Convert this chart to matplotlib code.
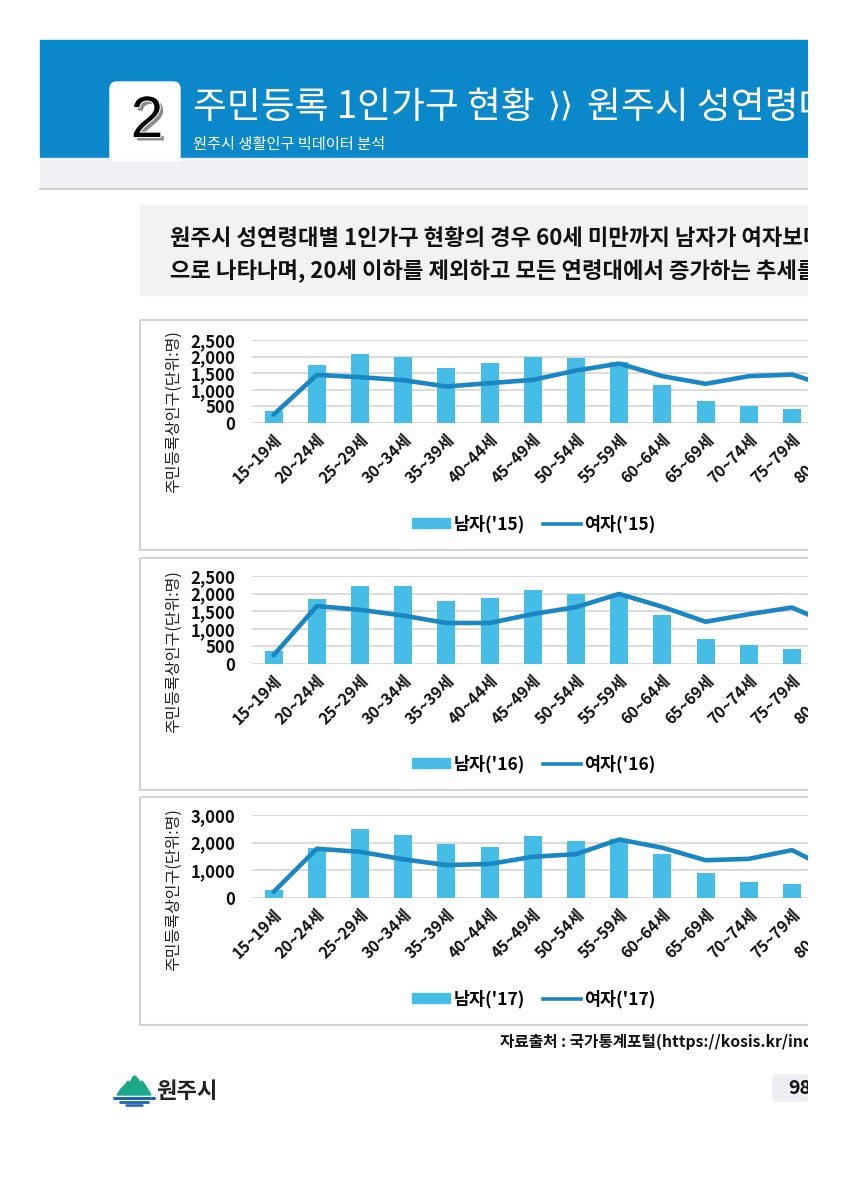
import matplotlib
matplotlib.use('Agg')
import matplotlib.pyplot as plt
from matplotlib.patches import Rectangle, FancyBboxPatch, Polygon
from matplotlib.lines import Line2D
import matplotlib.patheffects as pe
import numpy as np

plt.rcParams['font.family'] = ['Noto Sans CJK KR', 'DejaVu Sans']

# ---------------- data ----------------
categories = ['15~19세', '20~24세', '25~29세', '30~34세', '35~39세', '40~44세', '45~49세',
              '50~54세', '55~59세', '60~64세', '65~69세', '70~74세', '75~79세', '80~84세']

male_15 = [350, 1750, 2080, 2000, 1660, 1820, 2000, 1960, 1850, 1140, 660, 520, 430, 350]
female_15 = [250, 1450, 1380, 1290, 1100, 1200, 1300, 1580, 1790, 1410, 1180, 1410, 1460, 1050]

male_16 = [370, 1840, 2230, 2210, 1800, 1865, 2115, 1980, 1980, 1385, 710, 540, 440, 360]
female_16 = [250, 1645, 1540, 1375, 1165, 1165, 1420, 1615, 1990, 1625, 1200, 1415, 1605, 1070]

male_17 = [290, 1825, 2490, 2285, 1945, 1850, 2235, 2055, 2150, 1585, 895, 570, 495, 380]
female_17 = [220, 1780, 1670, 1400, 1190, 1230, 1490, 1585, 2115, 1815, 1365, 1415, 1730, 950]

years = ["'15", "'16", "'17"]
male_series = [male_15, male_16, male_17]
female_series = [female_15, female_16, female_17]
y_max = [2500, 2500, 3000]
y_step = [500, 500, 1000]

# ---------------- layout ----------------
W, H = 847, 1200
BAR_C = '#45bde6'
LINE_C = '#1a86c3'

fig = plt.figure(figsize=(W / 100, H / 100), dpi=100)
fig.patch.set_facecolor('white')

bg = fig.add_axes([0, 0, 1, 1], zorder=-5)
bg.set_xlim(0, W)
bg.set_ylim(H, 0)
bg.axis('off')


def rect(x0, y0, x1, y1):
    return [x0 / W, 1 - y1 / H, (x1 - x0) / W, (y1 - y0) / H]


# header
bg.add_patch(Rectangle((40, 40), 768, 118, color='#0a88ca', zorder=1))
bg.add_patch(FancyBboxPatch((110, 82), 70, 95, boxstyle='round,pad=0,rounding_size=7',
                            color='white', zorder=2))
bg.add_patch(Rectangle((40, 158), 768, 30, color='#eef0f4', zorder=3))
bg.add_patch(Rectangle((110, 158), 70, 2, color='white', zorder=3))
bg.plot([40, 808], [188.5, 188.5], color='#c3cad4', lw=1.2, zorder=4)

bg.text(147, 137, '2', fontsize=42, family=['Liberation Sans', 'DejaVu Sans'],
        ha='center', va='baseline', color='black', zorder=5,
        path_effects=[pe.SimplePatchShadow(offset=(2.5, -2.5), shadow_rgbFace='#8a8a8a', alpha=1),
                      pe.Stroke(linewidth=1.5, foreground='white'), pe.Normal()])

bg.text(193, 118, '주민등록 1인가구 현황', fontsize=26.5, color='white', ha='left', va='baseline', zorder=5)
bg.text(547, 116, '⟩⟩', fontsize=24, family=['DejaVu Sans'], color='white', ha='left',
        va='baseline', zorder=5)
bg.text(587, 118, '원주시 성연령대별 1인가구 현황', fontsize=26.5, color='white', ha='left',
        va='baseline', zorder=5)
bg.text(193, 144, '원주시 생활인구 빅데이터 분석', fontsize=11, color='white', ha='left', va='center', zorder=5)

# summary box
bg.add_patch(Rectangle((140, 205), 700, 90, color='#f2f2f2', zorder=1))
bg.text(170, 238, '원주시 성연령대별 1인가구 현황의 경우 60세 미만까지 남자가 여자보다 많은 것',
        fontsize=16.0, fontweight='bold', color='#111111', ha='left', va='center', zorder=2)
bg.text(170, 270, '으로 나타나며, 20세 이하를 제외하고 모든 연령대에서 증가하는 추세를 보임',
        fontsize=16.0, fontweight='bold', color='#111111', ha='left', va='center', zorder=2)

charts = [
    dict(top=340, bottom=423, frame=(320, 550), legend_y=524, ylab_y=412),
    dict(top=576, bottom=664, frame=(558, 790), legend_y=764, ylab_y=652),
    dict(top=815, bottom=898, frame=(797, 1025), legend_y=999, ylab_y=890),
]

x0_px = 252
slot = 43.2
x = np.arange(len(categories))

for i, c in enumerate(charts):
    f0, f1 = c['frame']
    bg.add_patch(Rectangle((140, f0), 740, f1 - f0, facecolor='none', edgecolor='#d2d2d2', lw=1.5, zorder=1))
    ax = fig.add_axes(rect(x0_px, c['top'], x0_px + slot * len(categories), c['bottom']))
    ax.set_facecolor('none')
    ax.bar(x, male_series[i], width=0.42, color=BAR_C, zorder=2)
    ax.plot(x, female_series[i], color=LINE_C, lw=3.3, zorder=3, solid_joinstyle='round',
            solid_capstyle='round')
    ax.set_xlim(-0.5, len(categories) - 0.5)
    ax.set_ylim(0, y_max[i])
    ax.set_yticks(np.arange(0, y_max[i] + 1, y_step[i]))
    ax.set_yticklabels([f'{v:,}' for v in np.arange(0, y_max[i] + 1, y_step[i])],
                       fontsize=12, fontweight='bold', color='#111111')
    ax.yaxis.grid(True, color='#d9d9d9', lw=1.3, zorder=0)
    ax.set_axisbelow(True)
    for s in ax.spines.values():
        s.set_visible(False)
    ax.tick_params(axis='both', length=0)
    ax.tick_params(axis='y', pad=12)
    ax.tick_params(axis='x', pad=6)
    ax.set_xticks(x)
    ax.set_xticklabels(categories, rotation=45, ha='right', va='top', rotation_mode='anchor',
                       fontsize=11.5, fontweight='bold', color='#111111')

    handles = [Rectangle((0, 0), 1, 1, color=BAR_C), Line2D([0], [0], color=LINE_C, lw=2.6)]
    labels = [f'남자({years[i]})', f'여자({years[i]})']
    ax.legend(handles, labels, loc='center', bbox_to_anchor=(534 / W, 1 - c['legend_y'] / H),
              bbox_transform=fig.transFigure, ncol=2, frameon=False,
              prop=dict(weight='bold', size=12.5), handlelength=2.2, handleheight=0.5,
              handletextpad=0.2, columnspacing=1.0, borderaxespad=0)

    bg.text(173, c['ylab_y'], '주민등록상인구(단위:명)', rotation=90, ha='center', va='center',
            fontsize=11.5, color='#222222')

# source
bg.text(500, 1042, '자료출처 : 국가통계포털(https://kosis.kr/index/index.do)', fontsize=11.3,
        fontweight='bold', color='#111111', ha='left', va='center')

# logo
mountain = Polygon([(117, 1095), (121, 1089), (125, 1085), (128, 1081), (130, 1083), (133, 1077),
                    (135, 1076), (138, 1079), (140, 1083), (142, 1081), (145, 1085), (148, 1090),
                    (151, 1095)], closed=True, color='#1aa888', zorder=2)
bg.add_patch(mountain)
bg.plot([114, 154], [1097.5, 1097.5], color='#1f63ad', lw=2.2, solid_capstyle='round')
bg.plot([120, 148], [1101.5, 1101.5], color='#1f63ad', lw=2.0, solid_capstyle='round')
bg.plot([126, 142], [1105, 1105], color='#1f63ad', lw=1.8, solid_capstyle='round')
bg.text(156, 1092, '원주시', fontsize=16, color='#222222', ha='left', va='center', fontweight='bold')

# page number
bg.add_patch(FancyBboxPatch((773, 1075), 60, 26, boxstyle='round,pad=0,rounding_size=4',
                            color='#eceef3', zorder=1))
bg.text(788, 1088, '98', fontsize=14, fontweight='bold', color='#111111', ha='left', va='center', zorder=2)

# page is cut at the right edge
fig.add_artist(Rectangle((808 / W, 0), 1 - 808 / W, 1, transform=fig.transFigure,
                         facecolor='white', edgecolor='none', zorder=50))

fig.savefig('out.png', dpi=100, facecolor='white')
